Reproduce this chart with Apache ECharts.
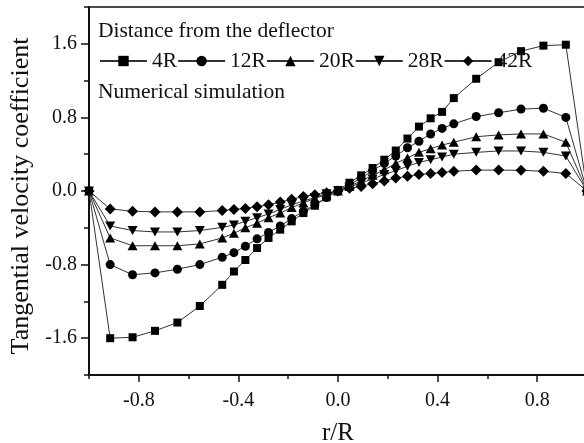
<!DOCTYPE html>
<html>
<head>
<meta charset="utf-8">
<script src="https://cdn.jsdelivr.net/npm/echarts@6/dist/echarts.min.js"></script>
<style>
  html, body { margin: 0; padding: 0; background: #fff; }
  #chart { width: 584px; height: 443px; }
</style>
</head>
<body>
<div id="chart"></div>
<script>
// Radial positions r/R
var rPos = [-1, -0.915, -0.825, -0.735, -0.645, -0.555, -0.465, -0.418, -0.372, -0.325, -0.279,
  -0.232, -0.186, -0.139, -0.093, -0.046, 0, 0.046, 0.093, 0.139, 0.186, 0.232, 0.279,
  0.325, 0.372, 0.418, 0.465, 0.555, 0.645, 0.735, 0.825, 0.915, 1];

// Tangential velocity coefficient at each distance from the deflector
var v4R = [0, -1.60, -1.59, -1.52, -1.43, -1.25, -1.02, -0.875, -0.75, -0.62, -0.51,
  -0.42, -0.33, -0.24, -0.16, -0.07, 0.01, 0.09, 0.17, 0.25, 0.34, 0.44, 0.57,
  0.70, 0.79, 0.86, 1.01, 1.22, 1.40, 1.52, 1.58, 1.59, 0];
var v12R = [0, -0.80, -0.91, -0.89, -0.85, -0.80, -0.72, -0.67, -0.60, -0.52, -0.45,
  -0.38, -0.30, -0.22, -0.15, -0.07, 0.0, 0.07, 0.14, 0.22, 0.30, 0.38, 0.47,
  0.54, 0.62, 0.68, 0.73, 0.81, 0.85, 0.89, 0.90, 0.80, 0];
var v20R = [0, -0.51, -0.595, -0.595, -0.595, -0.575, -0.51, -0.46, -0.40, -0.35, -0.29,
  -0.24, -0.18, -0.13, -0.08, -0.04, 0.0, 0.05, 0.11, 0.17, 0.23, 0.30, 0.36,
  0.42, 0.46, 0.50, 0.53, 0.59, 0.61, 0.62, 0.62, 0.53, 0];
var v28R = [0, -0.38, -0.43, -0.445, -0.445, -0.43, -0.395, -0.37, -0.33, -0.29, -0.25,
  -0.20, -0.15, -0.11, -0.07, -0.03, 0.0, 0.04, 0.09, 0.13, 0.18, 0.22, 0.27,
  0.31, 0.34, 0.37, 0.40, 0.42, 0.435, 0.435, 0.42, 0.38, 0];
var v42R = [0, -0.195, -0.22, -0.227, -0.227, -0.227, -0.213, -0.20, -0.19, -0.17, -0.15,
  -0.12, -0.09, -0.06, -0.04, -0.02, 0.0, 0.03, 0.05, 0.08, 0.11, 0.14, 0.16,
  0.18, 0.19, 0.20, 0.215, 0.227, 0.227, 0.225, 0.215, 0.19, 0];

var seriesNames = ['4R', '12R', '20R', '28R', '42R'];
var seriesValues = [v4R, v12R, v20R, v28R, v42R];
var seriesSymbols = ['rect', 'circle', 'triangle', 'path://M0,0 L10,0 L5,9 Z', 'diamond'];
var seriesSymbolSizes = [8, 9, [10, 9], [10, 9], [11, 11]];

// Tick positions
var xMajorTicks = [-0.8, -0.4, 0, 0.4, 0.8];
var xMinorTicks = [-1, -0.6, -0.2, 0.2, 0.6, 1];
var yMajorTicks = [-1.6, -0.8, 0, 0.8, 1.6];
var yMinorTicks = [-2, -1.2, -0.4, 0.4, 1.2, 2];

var FONT = '"Liberation Serif", "Times New Roman", serif';
var INK = '#111';

function pairs(xs, ys) {
  return xs.map(function (x, i) { return [x, ys[i]]; });
}

var series = seriesNames.map(function (name, i) {
  return {
    name: name,
    type: 'line',
    data: pairs(rPos, seriesValues[i]),
    symbol: seriesSymbols[i],
    symbolSize: seriesSymbolSizes[i],
    showAllSymbol: true,
    lineStyle: { color: '#333', width: 1 },
    itemStyle: { color: '#000', borderWidth: 0 },
    emphasis: { disabled: true },
    animation: false,
    z: 2 + i
  };
});

var chart = echarts.init(document.getElementById('chart'), null, { renderer: 'canvas' });
chart.setOption({
  backgroundColor: '#fff',
  animation: false,
  grid: { left: 89, right: -3, top: 7, bottom: 68, containLabel: false, outerBoundsMode: 'none' },
  legend: {
    data: seriesNames,
    left: 99,
    top: 50,
    padding: 0,
    itemWidth: 47,
    itemHeight: 13,
    itemGap: 0,
    selectedMode: false,
    textStyle: { fontFamily: FONT, fontSize: 21.5, color: INK }
  },
  graphic: [
    { type: 'text', left: 98, top: 20, style: { text: 'Distance from the deflector', font: '21.5px ' + FONT, fill: INK } },
    { type: 'text', left: 98, top: 81, style: { text: 'Numerical simulation', font: '21.5px ' + FONT, fill: INK } }
  ],
  xAxis: [
    {
      type: 'value', min: -1, max: 1, interval: 0.2, position: 'bottom',
      name: 'r/R', nameLocation: 'middle', nameGap: 46,
      nameTextStyle: { fontFamily: FONT, fontSize: 25, color: INK },
      axisLine: { onZero: false, lineStyle: { color: INK, width: 2 } },
      axisTick: { customValues: xMajorTicks, length: 7, lineStyle: { color: INK, width: 1.5 } },
      axisLabel: { customValues: xMajorTicks, margin: 16, fontFamily: FONT, fontSize: 20, color: INK,
        formatter: function (v) { return v.toFixed(1); } },
      splitLine: { show: false }
    },
    {
      type: 'value', min: -1, max: 1, interval: 0.2, position: 'bottom', gridIndex: 0,
      axisLine: { show: false, onZero: false },
      axisTick: { customValues: xMinorTicks, length: 4, lineStyle: { color: INK, width: 1.5 } },
      axisLabel: { show: false },
      splitLine: { show: false }
    },
    {
      type: 'value', min: -1, max: 1, position: 'top',
      axisLine: { onZero: false, lineStyle: { color: INK, width: 1.5 } },
      axisTick: { show: false }, axisLabel: { show: false }, splitLine: { show: false }
    }
  ],
  yAxis: [
    {
      type: 'value', min: -2, max: 2, interval: 0.4, position: 'left',
      name: 'Tangential velocity coefficient', nameLocation: 'middle', nameGap: 48,
      nameTextStyle: { fontFamily: FONT, fontSize: 26, color: INK, padding: [0, 10, 0, 0] },
      axisLine: { onZero: false, lineStyle: { color: INK, width: 2 } },
      axisTick: { customValues: yMajorTicks, length: 8, lineStyle: { color: INK, width: 1.5 } },
      axisLabel: { customValues: yMajorTicks, margin: 12, fontFamily: FONT, fontSize: 20, color: INK,
        formatter: function (v) { return v.toFixed(1); } },
      splitLine: { show: false }
    },
    {
      type: 'value', min: -2, max: 2, interval: 0.4, position: 'left',
      axisLine: { show: false, onZero: false },
      axisTick: { customValues: yMinorTicks, length: 5, lineStyle: { color: INK, width: 1.5 } },
      axisLabel: { show: false },
      splitLine: { show: false }
    }
  ],
  series: series
});
</script>
</body>
</html>
